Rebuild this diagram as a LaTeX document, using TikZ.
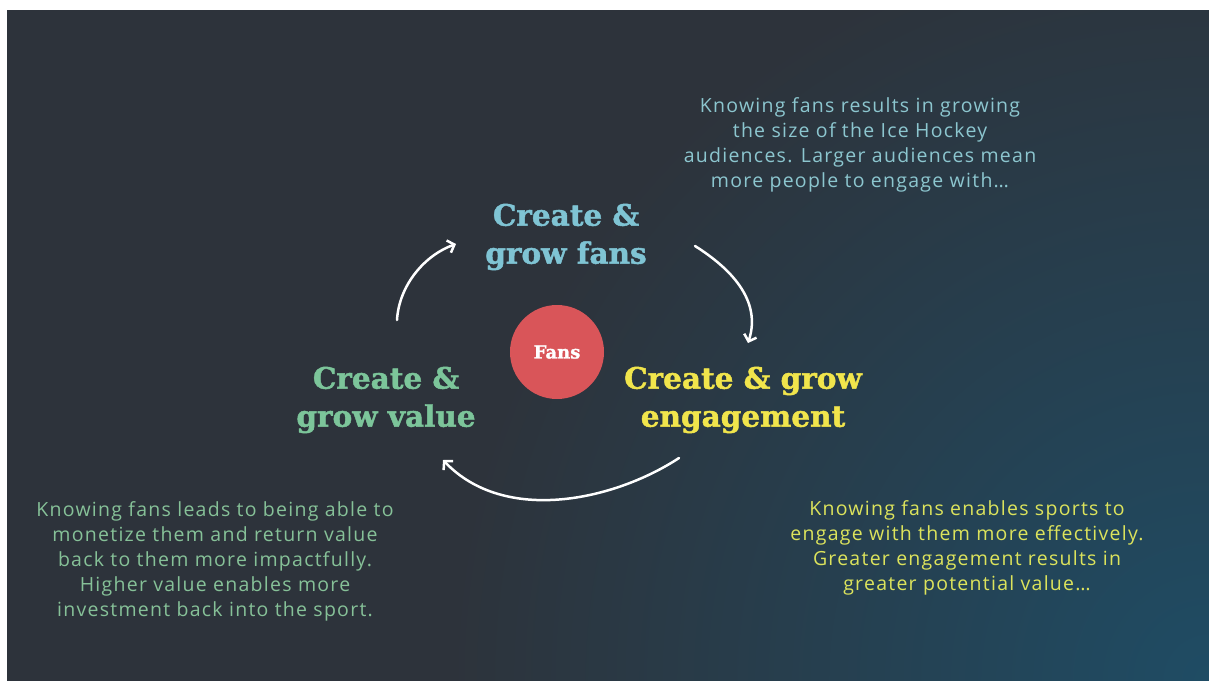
\documentclass[tikz,border=0pt]{standalone}
\usepackage{fontspec}
\setmainfont{Open Sans}[LetterSpace=6.5]
\newfontfamily\headfont{DejaVu Serif}[BoldFeatures={FakeBold=1.5}]
\usetikzlibrary{arrows.meta}
\definecolor{bg}{HTML}{2D333B}
\definecolor{glowc}{HTML}{1F4C64}
\definecolor{fanblue}{HTML}{7FC4D4}
\definecolor{fanbluetext}{HTML}{8CC6CF}
\definecolor{engyellow}{HTML}{F1E54C}
\definecolor{engyellowtext}{HTML}{DCE35C}
\definecolor{valgreen}{HTML}{7CC59A}
\definecolor{valgreentext}{HTML}{86C198}
\definecolor{fanred}{HTML}{D95559}
\pgfdeclareradialshading{cornerglow}{\pgfpoint{0bp}{0bp}}{color(0bp)=(glowc); color(25bp)=(bg); color(50bp)=(bg)}
\tikzset{
  heading/.style={align=center, inner sep=0pt, font=\headfont\bfseries\fontsize{29.5}{38}\selectfont},
  bodytext/.style={align=center, inner sep=0pt, font=\fontsize{19.5}{25}\selectfont},
  cyclearrow/.style={draw=white, line width=2.5pt, line cap=round, -{Straight Barb[length=6pt,width=13pt]}},
}
\begin{document}
\begin{tikzpicture}[x=1pt,y=-1pt]
\useasboundingbox (0,0) rectangle (1209,680);
\fill[white] (-5,-5) rectangle (1215,690);
\fill[bg] (7,10) rectangle (1215,690);
\begin{scope}
  \clip (7,10) rectangle (1215,690);
  \shade[shading=cornerglow] (1209,680) circle (760pt);
\end{scope}

\node[circle, fill=fanred, minimum size=94pt, inner sep=0pt, text=white,
      font=\headfont\bfseries\fontsize{18}{20}\selectfont] (fans) at (557,352) {Fans};

\node[heading, text=fanblue] (growfans) at (566,237) {Create \&\\grow fans};
\node[heading, text=engyellow] (growengage) at (743,400) {Create \& grow\\engagement};
\node[heading, text=valgreen] (growvalue) at (386,400) {Create \&\\grow value};

\node[bodytext, text=fanbluetext] (fanstext) at (860,145) {Knowing fans results in growing\\the size of the Ice Hockey\\audiences. Larger audiences mean\\more people to engage with…};
\node[bodytext, text=engyellowtext] (engagetext) at (967,548) {Knowing fans enables sports to\\engage with them more effectively.\\Greater engagement results in\\greater potential value…};
\node[bodytext, text=valgreentext] (valuetext) at (215,561) {Knowing fans leads to being able to\\monetize them and return value\\back to them more impactfully.\\Higher value enables more\\investment back into the sport.};

\coordinate (a1s) at (397,320);
\coordinate (a1e) at (456,244);
\coordinate (a2s) at (695,246);
\coordinate (a2e) at (748,343);
\coordinate (a3s) at (679,458);
\coordinate (a3e) at (443,460);

\draw[cyclearrow] (a1s) .. controls (399,285) and (425,255) .. (a1e);
\draw[cyclearrow] (a2s) .. controls (730,268) and (762,300) .. (a2e);
\draw[cyclearrow] (a3s) .. controls (615,500) and (505,525) .. (a3e);
\end{tikzpicture}
\end{document}
